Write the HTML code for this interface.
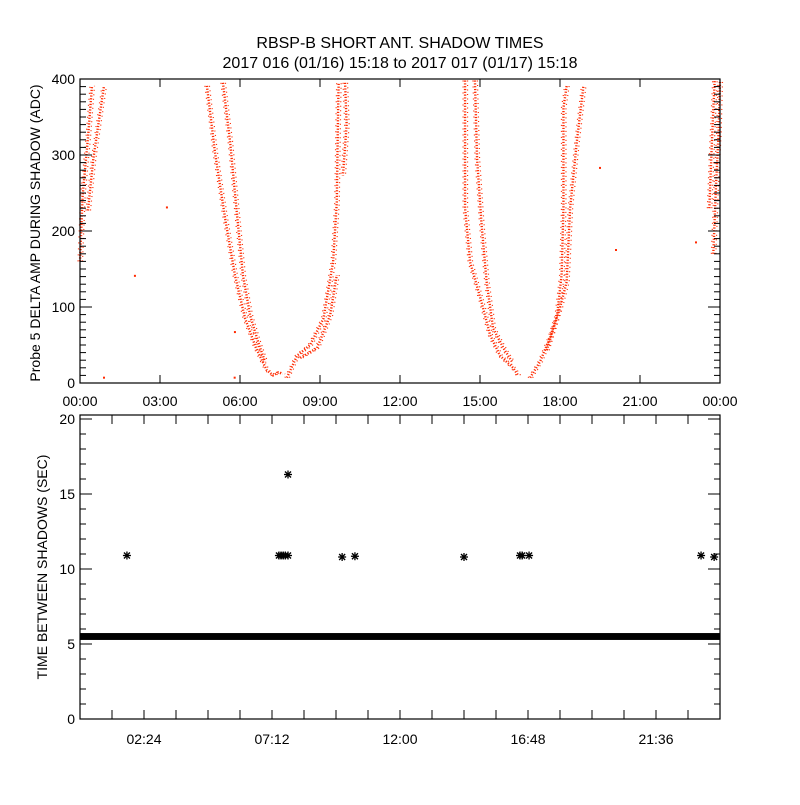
<!DOCTYPE html>
<html><head><meta charset="utf-8"><style>
body{margin:0;background:#fff}
svg text{font-family:"Liberation Sans",sans-serif;fill:#000}
</style></head><body>
<svg id="c" width="800" height="800" viewBox="0 0 800 800">
<rect width="800" height="800" fill="#fff"/>
<text x="400" y="48" font-size="16" text-anchor="middle">RBSP-B SHORT ANT. SHADOW TIMES</text>
<text x="400" y="68" font-size="16" text-anchor="middle">2017 016 (01/16) 15:18 to 2017 017 (01/17) 15:18</text>
<g id="topPanel"></g>
<g id="botPanel"></g>
<text transform="translate(40,233) rotate(-90)" font-size="14" text-anchor="middle">Probe 5 DELTA AMP DURING SHADOW (ADC)</text>
<text transform="translate(47,567) rotate(-90)" font-size="14" text-anchor="middle">TIME BETWEEN SHADOWS (SEC)</text>
</svg>
<script>
const strandA1=[[0,160],[0.1,247],[0.3,323],[0.45,391]];
const strandA2=[[0.3,227],[0.5,295],[0.7,343],[0.9,391]];
const strandB1=[[4.76,391],[5.06,304],[5.44,217],[5.81,142],[6.19,85],[6.6,46],[7.0,17],[7.24,10],[7.44,14],[7.6,12]];
const strandB2=[[5.36,395],[5.63,317],[5.89,221],[6.11,142],[6.38,89],[6.68,54],[6.94,28]];
const strandB3=[[7.76,7],[8.14,36],[8.63,50],[9.13,85],[9.49,159],[9.63,238],[9.68,362],[9.7,395]];
const strandB4=[[8.26,33],[8.89,46],[9.38,89],[9.63,142]];
const strandB5=[[9.94,395],[10.0,340],[9.86,273]];
const strandC1=[[14.44,398],[14.44,230],[14.63,159],[15.06,106],[15.38,63],[15.75,36],[16.24,20],[16.43,10]];
const strandC2=[[14.81,398],[14.89,296],[15.06,208],[15.25,133],[15.49,72],[15.88,46],[16.2,28]];
const strandC3=[[16.88,7],[17.25,28],[17.63,60],[17.89,89],[18.06,142],[18.13,230],[18.13,362],[18.25,391]];
const strandC4=[[17.5,43],[18.0,99],[18.25,133],[18.38,230],[18.63,317],[18.88,391]];
const strandD1=[[23.75,170],[23.85,260],[23.95,330],[24,398]];
const strandD2=[[23.6,230],[23.7,320],[23.8,398]];
const isolatedPoints=[[2.06,141],[3.26,231],[0.9,7],[5.81,67],[5.8,7],[20.1,175],[19.5,283],[23.1,185]];
const topXTickLabels=["00:00","03:00","06:00","09:00","12:00","15:00","18:00","21:00","00:00"];
const topYTickLabels=["0","100","200","300","400"];
const botXTickLabels=["02:24","07:12","12:00","16:48","21:36"];
const botYTickLabels=["0","5","10","15","20"];
const bandMin=5.27, bandMax=5.73;
const asteriskHours=[1.76,7.46,7.54,7.62,7.7,7.8,7.8,9.83,10.31,14.4,16.5,16.58,16.84,23.29,23.78];
const asteriskValues=[10.9,10.9,10.9,10.9,10.9,10.9,16.3,10.8,10.85,10.8,10.9,10.9,10.9,10.9,10.8];

const NS="http://www.w3.org/2000/svg";
const L=80,R=720;
const xs=h=>L+h/24*(R-L);
const T0=79,T1=383; const ty=v=>T1-v/400*(T1-T0);
const B0=419,B1=719; const by=v=>B1-v/20*(B1-B0);
function mk(p,tag,at){const e=document.createElementNS(NS,tag);for(const k in at)e.setAttribute(k,at[k]);p.appendChild(e);return e;}
const topG=document.getElementById('topPanel'), botG=document.getElementById('botPanel');

const strands=[strandA1,strandA2,strandB1,strandB2,strandB3,strandB4,strandB5,strandC1,strandC2,strandC3,strandC4,strandD1,strandD2];
strands.forEach((s,i)=>{
  const pl=mk(topG,'polyline',{points:s.map(p=>xs(p[0])+','+ty(p[1])).join(' '),fill:'none',stroke:'#ff2a00','stroke-width':2.4,'stroke-dasharray':'1.2 1.6'});
  
  
  const pl2=mk(topG,'polyline',{points:s.map(p=>(xs(p[0])+2.5)+','+ty(p[1])).join(' '),fill:'none',stroke:'#ff2a00','stroke-width':1.2,'stroke-dasharray':'1 3.5'});
  
  
  const pl3=mk(topG,'polyline',{points:s.map(p=>(xs(p[0])-2)+','+ty(p[1])).join(' '),fill:'none',stroke:'#ff2a00','stroke-width':1.2,'stroke-dasharray':'1 5'});
  
  
});
isolatedPoints.forEach(p=>{
  const r=mk(topG,'rect',{x:xs(p[0])-1,y:ty(p[1])-1,width:2,height:2,fill:'#ff2a00'});
  
  
});
const tf=mk(topG,'rect',{x:L,y:T0,width:R-L,height:T1-T0,fill:'none',stroke:'#000','stroke-width':1.2});


topXTickLabels.forEach((t,i)=>{
  const x=xs(i*3);
  mk(topG,'line',{x1:x,x2:x,y1:T1,y2:T1-8,stroke:'#000'});
  mk(topG,'line',{x1:x,x2:x,y1:T0,y2:T0+8,stroke:'#000'});
  const tx=mk(topG,'text',{x:x,y:406,'font-size':14,'text-anchor':'middle'});tx.textContent=t;
  
  
});
for(let v=0;v<=400;v+=10){const y=ty(v),len=v%100===0?12:6;
  mk(topG,'line',{x1:L,x2:L+len,y1:y,y2:y,stroke:'#000'});
  mk(topG,'line',{x1:R,x2:R-len,y1:y,y2:y,stroke:'#000'});}
topYTickLabels.forEach(t=>{
  const tx=mk(topG,'text',{x:L-5,y:ty(+t)+5,'font-size':14,'text-anchor':'end'});tx.textContent=t;
  
  
});

const band=mk(botG,'rect',{x:L,y:by(bandMax),width:R-L,height:by(bandMin)-by(bandMax),fill:'#000'});


asteriskHours.forEach((h,i)=>{
  const x=xs(h),y=by(asteriskValues[i]);
  const g=mk(botG,'g',{stroke:'#000','stroke-width':1.3});
  
  
  mk(g,'line',{x1:x-4,x2:x+4,y1:y,y2:y});mk(g,'line',{x1:x,x2:x,y1:y-4,y2:y+4});
  mk(g,'line',{x1:x-3,x2:x+3,y1:y-3,y2:y+3});mk(g,'line',{x1:x-3,x2:x+3,y1:y+3,y2:y-3});
});
const bf=mk(botG,'rect',{x:L,y:B0-4,width:R-L,height:B1-B0+4,fill:'none',stroke:'#000','stroke-width':1.2});


for(let k=1;k<20;k++){const x=xs(k*1.2);
  mk(botG,'line',{x1:x,x2:x,y1:B1,y2:B1-9,stroke:'#000'});
  mk(botG,'line',{x1:x,x2:x,y1:B0-4,y2:B0+5,stroke:'#000'});}
botXTickLabels.forEach((t,i)=>{
  const tx=mk(botG,'text',{x:xs(2.4+i*4.8),y:744,'font-size':14,'text-anchor':'middle'});tx.textContent=t;
  
  
});
for(let v=0;v<=20;v++){const y=by(v),len=v%5===0?12:6;
  mk(botG,'line',{x1:L,x2:L+len,y1:y,y2:y,stroke:'#000'});
  mk(botG,'line',{x1:R,x2:R-len,y1:y,y2:y,stroke:'#000'});}
botYTickLabels.forEach(t=>{
  const tx=mk(botG,'text',{x:L-5,y:by(+t)+5,'font-size':14,'text-anchor':'end'});tx.textContent=t;
  
  
});
</script>
</body></html>
